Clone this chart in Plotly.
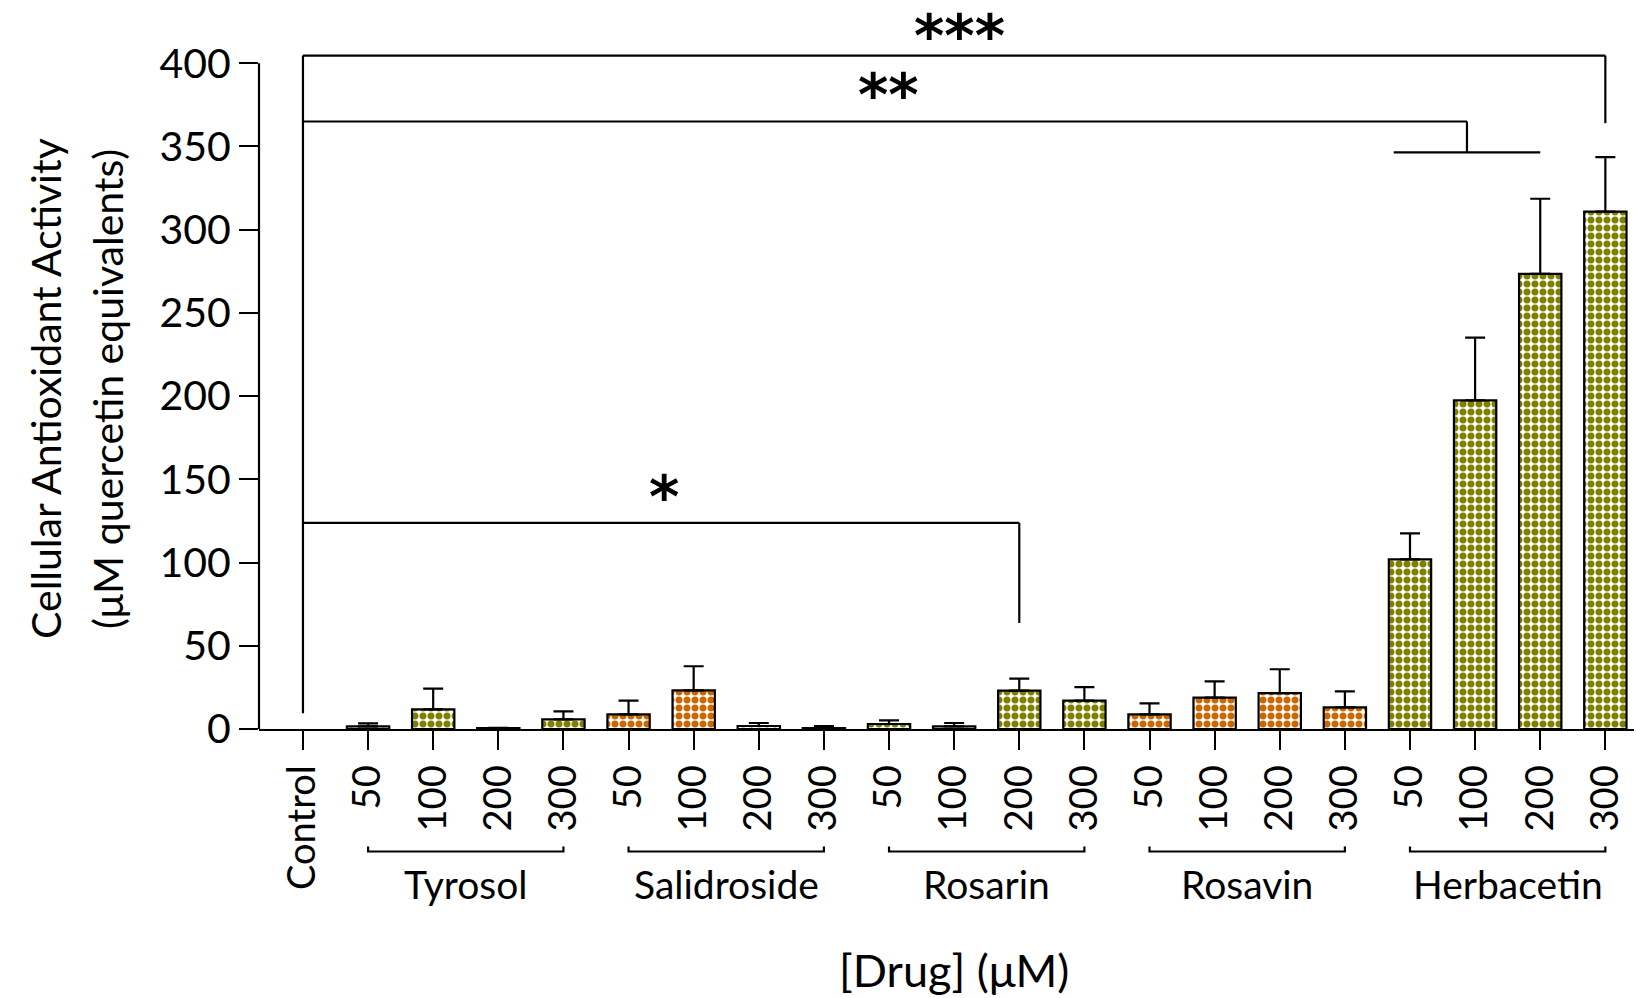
import numpy as np
import plotly.graph_objects as go

# ---------------- data ----------------
control_label = "Control"
control_mean = 0.0
groups = ["Tyrosol", "Salidroside", "Rosarin", "Rosavin", "Herbacetin"]
doses = ["50", "100", "200", "300"]
group_colors = ["#808000", "#CC6600", "#808000", "#CC6600", "#808000"]

tyrosol_mean = [1.6, 11.8, 0.5, 5.8]
tyrosol_err = [1.8, 12.5, 0.2, 4.8]
salidroside_mean = [8.8, 23.2, 1.8, 0.6]
salidroside_err = [8.2, 14.5, 1.8, 1.2]
rosarin_mean = [3.0, 1.6, 23.0, 17.0]
rosarin_err = [2.2, 2.0, 7.3, 8.2]
rosavin_mean = [8.8, 18.9, 21.6, 13.0]
rosavin_err = [6.6, 9.7, 14.3, 9.6]
herbacetin_mean = [101.9, 197.4, 273.5, 310.9]
herbacetin_err = [15.6, 37.7, 45.1, 32.7]

means = [tyrosol_mean, salidroside_mean, rosarin_mean, rosavin_mean, herbacetin_mean]
errs = [tyrosol_err, salidroside_err, rosarin_err, rosavin_err, herbacetin_err]

y_ticks = [0, 50, 100, 150, 200, 250, 300, 350, 400]

sig_labels = ["***", "**", "*"]

# ---------------- figure ----------------
FONT = "Lato"
Y_TOP = 438
fig = go.Figure()

tick_labels = [control_label] + [d for _ in groups for d in doses]
n_cat = len(tick_labels)
positions = np.arange(n_cat)

fig.add_trace(go.Bar(x=[positions[0]], y=[control_mean], width=0.65,
                     marker=dict(color="white", line=dict(color="black", width=0)),
                     showlegend=False, hoverinfo="skip"))

for gi, g in enumerate(groups):
    xs = positions[1 + gi * len(doses): 1 + (gi + 1) * len(doses)]
    fig.add_trace(go.Bar(
        x=xs, y=means[gi], width=0.65, name=g, showlegend=False,
        marker=dict(color="white",
                    line=dict(color="black", width=2.2),
                    pattern=dict(shape=".", fgcolor=group_colors[gi], bgcolor="white",
                                 size=8, solidity=0.6, fillmode="replace")),
        error_y=dict(type="data", array=errs[gi], arrayminus=[0] * len(doses),
                     symmetric=False, color="black", thickness=2.2, width=10),
    ))

shapes = []
line = dict(color="black", width=2.2)
# y-axis line (only up to 400)
shapes.append(dict(type="line", xref="paper", yref="y", x0=0, x1=0, y0=0, y1=y_ticks[-1], line=line))

# significance brackets
top_y, mid_y, low_y = 404.6, 365.0, 123.9
last = positions[-1]
herb = positions[-4:]
shapes += [
    dict(type="line", xref="x", yref="y", x0=0, x1=0, y0=9.4, y1=top_y, line=line),
    dict(type="line", xref="x", yref="y", x0=0, x1=last, y0=top_y, y1=top_y, line=line),
    dict(type="line", xref="x", yref="y", x0=last, x1=last, y0=top_y, y1=364.0, line=line),
    dict(type="line", xref="x", yref="y", x0=0, x1=17.875, y0=mid_y, y1=mid_y, line=line),
    dict(type="line", xref="x", yref="y", x0=17.875, x1=17.875, y0=mid_y, y1=346.4, line=line),
    dict(type="line", xref="x", yref="y", x0=herb[0] - 0.25, x1=herb[2], y0=346.4, y1=346.4, line=line),
    dict(type="line", xref="x", yref="y", x0=0, x1=positions[11], y0=low_y, y1=low_y, line=line),
    dict(type="line", xref="x", yref="y", x0=positions[11], x1=positions[11], y0=low_y, y1=63.7, line=line),
]

annotations = []
star_font = dict(family="DejaVu Sans", size=58, color="black")
annotations += [
    dict(x=10.08, y=Y_TOP, xref="x", yref="y", text="<b>" + sig_labels[0] + "</b>", showarrow=False, font=star_font, yanchor="top"),
    dict(x=8.99, y=381.0, xref="x", yref="y", text="<b>" + sig_labels[1] + "</b>", showarrow=False, font=star_font, yanchor="middle"),
    dict(x=5.54, y=139.5, xref="x", yref="y", text="<b>" + sig_labels[2] + "</b>", showarrow=False, font=star_font, yanchor="middle"),
]

# pixel helpers for decorations (plot area: left 259, width 1375, bottom 729, height 729)
def py(pix):
    return (729.0 - pix) / 729.0

def px(pix):
    return (pix - 259.0) / 1375.0

for gi, g in enumerate(groups):
    xs = positions[1 + gi * len(doses): 1 + (gi + 1) * len(doses)]
    x0, x1 = xs[0], xs[-1]
    shapes.append(dict(type="path", xref="x", yref="paper",
                       path=f"M {x0},{py(846.5)} L {x0},{py(851.5)} L {x1},{py(851.5)} L {x1},{py(846.5)}",
                       line=line))
    annotations.append(dict(x=(x0 + x1) / 2, y=py(884), xref="x", yref="paper", text=g,
                            showarrow=False, yanchor="middle",
                            font=dict(family=FONT, size=39, color="black")))

annotations.append(dict(x=(positions[0] + positions[-1]) / 2, y=py(970), xref="x", yref="paper",
                        text="[Drug] (μM)", showarrow=False, yanchor="middle",
                        font=dict(family=FONT, size=45, color="black")))
title_lines = ["Cellular Antioxidant Activity", "(μM quercetin equivalents)"]
for lx, t in zip([45, 107], title_lines):
    annotations.append(dict(x=px(lx), y=py(389), xref="paper", yref="paper", text=t,
                            showarrow=False, textangle=-90, xanchor="center", yanchor="middle",
                            font=dict(family=FONT, size=41, color="black")))

fig.update_layout(
    width=1636, height=998,
    margin=dict(l=259, r=2, t=0, b=269),
    plot_bgcolor="white", paper_bgcolor="white",
    barmode="overlay",
    shapes=shapes, annotations=annotations,
    xaxis=dict(range=[-0.675, 20.44], tickmode="array", tickvals=positions, ticktext=tick_labels,
               tickangle=-90, ticks="outside", ticklen=19, tickwidth=2.2, tickcolor="black",
               showline=True, linewidth=2.2, linecolor="black", showgrid=False, zeroline=False,
               automargin=False,
               tickfont=dict(family=FONT, size=38, color="black")),
    yaxis=dict(range=[0, Y_TOP], tickmode="array", tickvals=y_ticks,
               ticks="outside", ticklen=19, tickwidth=2.2, tickcolor="black",
               showline=False, showgrid=False, zeroline=False, automargin=False,
               tickfont=dict(family=FONT, size=41, color="black")),
)

fig.write_html("out.html", config={"displayModeBar": False},
               post_script="document.body.style.margin='0px';document.body.style.overflow='hidden';")
